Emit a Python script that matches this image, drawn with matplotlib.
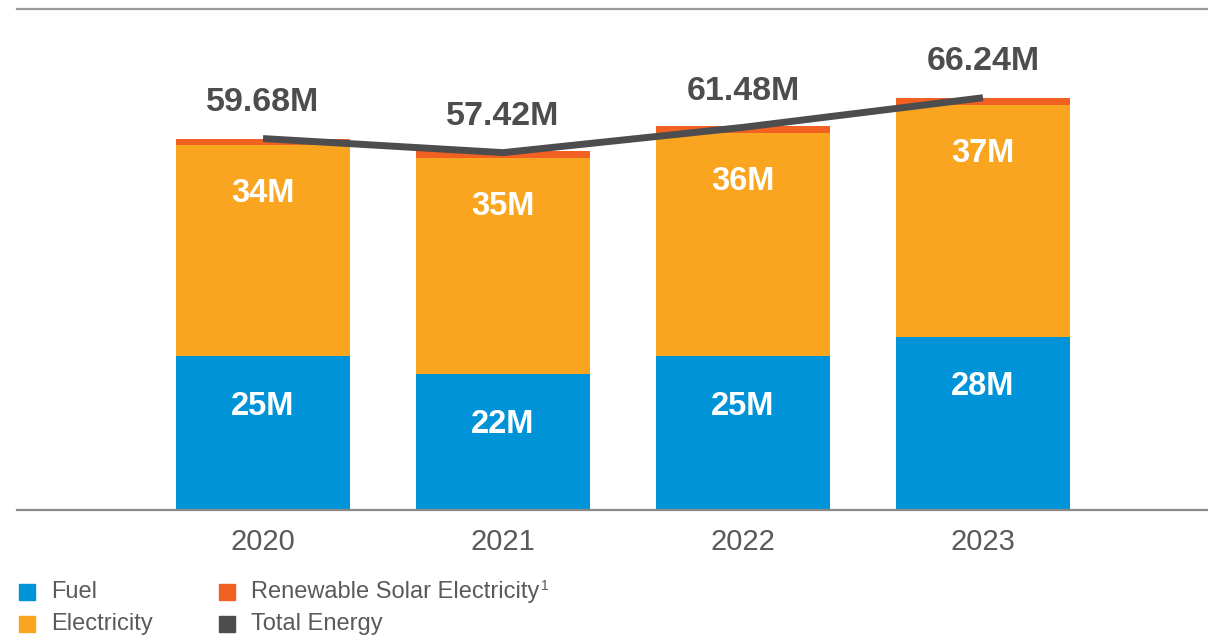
import matplotlib
matplotlib.use("Agg")
import matplotlib.pyplot as plt
from matplotlib.patches import Rectangle

years = ["2020", "2021", "2022", "2023"]
fuel = [24.7, 21.8, 24.7, 27.8]
electricity = [33.9, 34.8, 35.9, 37.3]
solar = [1.08, 1.05, 1.05, 1.1]
total = [59.68, 57.42, 61.48, 66.24]
fuel_labels = ["25M", "22M", "25M", "28M"]
elec_labels = ["34M", "35M", "36M", "37M"]
total_labels = ["59.68M", "57.42M", "61.48M", "66.24M"]

C_FUEL = "#0093D7"
C_ELEC = "#F9A51F"
C_SOLAR = "#F26122"
C_TOTAL = "#4D4D4F"
C_TEXT = "#5A5A5A"

plt.rcParams['font.family'] = ['Liberation Sans', 'DejaVu Sans']

W, H = 1208, 636
fig = plt.figure(figsize=(W / 100, H / 100), dpi=100)
ax = fig.add_axes([17 / W, (H - 510) / H, 1 - 17 / W, (510 - 9) / H])

x = list(range(len(years)))
bw = 0.725
bottom2 = [f + e for f, e in zip(fuel, electricity)]
ax.bar(x, fuel, width=bw, color=C_FUEL, zorder=2)
ax.bar(x, electricity, width=bw, bottom=fuel, color=C_ELEC, zorder=2)
ax.bar(x, solar, width=bw, bottom=bottom2, color=C_SOLAR, zorder=2)
ax.plot(x, total, color=C_TOTAL, linewidth=5, solid_capstyle='butt',
        solid_joinstyle='miter', zorder=3)

for i in x:
    ax.annotate(fuel_labels[i], (i, fuel[i]), xytext=(0, -36), textcoords='offset points',
                ha='center', va='center', color='white', fontsize=23.5, fontweight='bold')
    ax.annotate(elec_labels[i], (i, bottom2[i]), xytext=(0, -35), textcoords='offset points',
                ha='center', va='center', color='white', fontsize=23.5, fontweight='bold')
    ax.annotate(total_labels[i], (i, total[i]), xytext=(0, 26), textcoords='offset points',
                ha='center', va='center', color=C_TOTAL, fontsize=24.5, fontweight='bold')

ax.set_xlim(-1.025, 3.9375)
ax.set_ylim(0, 80.5)
ax.set_xticks(x)
ax.set_xticklabels(years)
ax.tick_params(axis='x', length=0, pad=13, labelsize=21, labelcolor=C_TEXT)
ax.set_yticks([])
for s in ['left', 'right']:
    ax.spines[s].set_visible(False)
ax.spines['bottom'].set_color('#8A8A8A')
ax.spines['bottom'].set_linewidth(1.6)
ax.spines['top'].set_color('#9A9A9A')
ax.spines['top'].set_linewidth(1.6)
ax.spines['bottom'].set_zorder(4)

legend_items = [
    ("Fuel", C_FUEL, 19, 592, ""),
    ("Electricity", C_ELEC, 19, 624, ""),
    ("Renewable Solar Electricity", C_SOLAR, 219, 592, "1"),
    ("Total Energy", C_TOTAL, 219, 624, ""),
]
renderer = fig.canvas.get_renderer()
for label, col, px, py, sup in legend_items:
    sq = 16
    fig.patches.append(Rectangle((px / W, (H - py - sq / 2) / H), sq / W, sq / H,
                                 transform=fig.transFigure, color=col))
    t = fig.text((px + 32) / W, (H - py) / H, label, ha='left', va='center',
                 fontsize=17, color=C_TEXT)
    if sup:
        bb = t.get_window_extent(renderer=renderer)
        fig.text((bb.x1 + 2) / W, (H - py + 6) / H, sup, ha='left', va='center',
                 fontsize=10, color=C_TEXT)

fig.savefig("out.png", dpi=100)
